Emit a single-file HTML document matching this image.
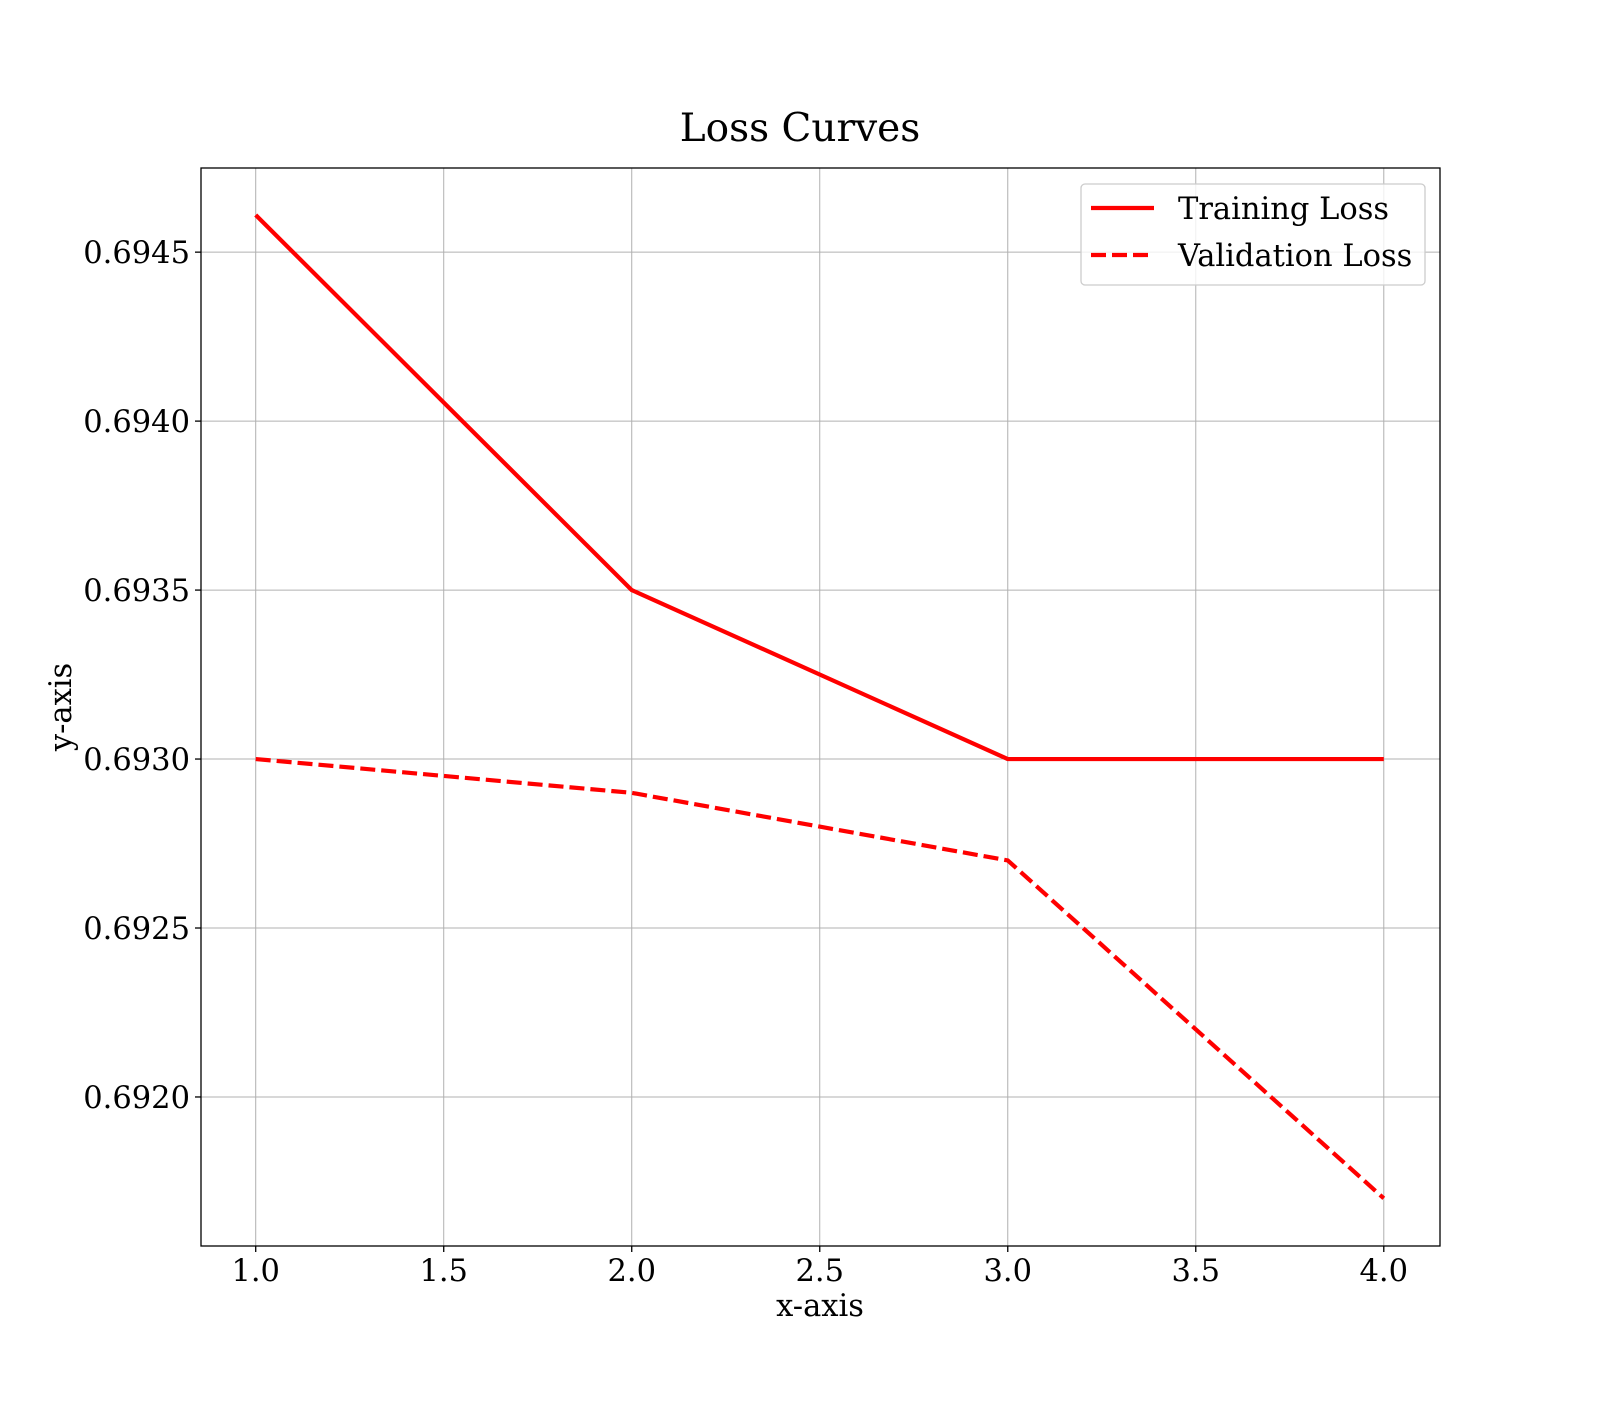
<!DOCTYPE html>
<html><head><meta charset="utf-8"><style>
html,body{margin:0;padding:0;background:#fff;}
svg text{font-family:"DejaVu Serif","Liberation Serif",serif;fill:#000;}
</style></head><body>
<svg id="chart" width="1600" height="1400" xmlns="http://www.w3.org/2000/svg">
<rect width="1600" height="1400" fill="#fff"/>
<text x="800" y="141" font-size="39" text-anchor="middle">Loss Curves</text>
<g id="grid"></g>
<g id="series"></g>
<rect x="201" y="168" width="1239" height="1078" fill="none" stroke="#000" stroke-width="1.3"/>
<g id="ticks"></g>
<text x="820" y="1316" font-size="30.5" text-anchor="middle">x-axis</text>
<text x="0" y="0" font-size="30.5" text-anchor="middle" transform="translate(71,707) rotate(-90)">y-axis</text>
<g>
<rect x="1081" y="184" width="344" height="101" rx="4" fill="#fff" fill-opacity="0.8" stroke="#ccc" stroke-width="1.3"/>
<g>
<line x1="1091" y1="208" x2="1154" y2="208" stroke="#ff0000" stroke-width="4.2"/>
<text x="1178" y="219" font-size="30.5">Training Loss</text></g>
<g>
<line x1="1091" y1="255" x2="1154" y2="255" stroke="#ff0000" stroke-width="4.2" stroke-dasharray="15,6"/>
<text x="1178" y="266" font-size="30.5">Validation Loss</text></g>
</g>
</svg>
<script>
const epochs=[1,2,3,4];
const trainingLoss=[0.69461,0.6935,0.6930,0.6930];
const validationLoss=[0.6930,0.6929,0.6927,0.6917];
const xTicks=[1.0,1.5,2.0,2.5,3.0,3.5,4.0];
const yTicks=[0.6920,0.6925,0.6930,0.6935,0.6940,0.6945];
const NS="http://www.w3.org/2000/svg";
const X0=201,X1=1440,Y0=168,Y1=1246;
const xMin=0.8545,xMax=4.1495,yMin=0.691559,yMax=0.694749;
function sx(v){return X0+(v-xMin)/(xMax-xMin)*(X1-X0);}
function sy(v){return Y1-(v-yMin)/(yMax-yMin)*(Y1-Y0);}
function mk(tag,attrs,parent){const e=document.createElementNS(NS,tag);for(const k in attrs)e.setAttribute(k,attrs[k]);parent.appendChild(e);return e;}
const grid=document.getElementById('grid'),ticks=document.getElementById('ticks'),series=document.getElementById('series');
xTicks.forEach(t=>{const x=sx(t);
const g=mk('line',{x1:x,x2:x,y1:Y0,y2:Y1,stroke:'#b0b0b0','stroke-width':1},grid);


const tk=mk('line',{x1:x,x2:x,y1:Y1,y2:Y1+6,stroke:'#000','stroke-width':1.3},ticks);


const tx=mk('text',{x:x,y:1281,'font-size':30.5,'text-anchor':'middle'},ticks);
tx.textContent=t.toFixed(1);

});
yTicks.forEach(t=>{const y=sy(t);
const g=mk('line',{x1:X0,x2:X1,y1:y,y2:y,stroke:'#b0b0b0','stroke-width':1},grid);


const tk=mk('line',{x1:X0-6,x2:X0,y1:y,y2:y,stroke:'#000','stroke-width':1.3},ticks);


const tx=mk('text',{x:190,y:y+11,'font-size':30.5,'text-anchor':'end'},ticks);
tx.textContent=t.toFixed(4);

});
function pts(arr){return arr.map((v,i)=>sx(epochs[i])+','+sy(v)).join(' ');}
const l1=mk('polyline',{points:pts(trainingLoss),fill:'none',stroke:'#ff0000','stroke-width':4.2,'stroke-linejoin':'round'},series);


const l2=mk('polyline',{points:pts(validationLoss),fill:'none',stroke:'#ff0000','stroke-width':4.2,'stroke-dasharray':'15,6'},series);


</script>
</body></html>
